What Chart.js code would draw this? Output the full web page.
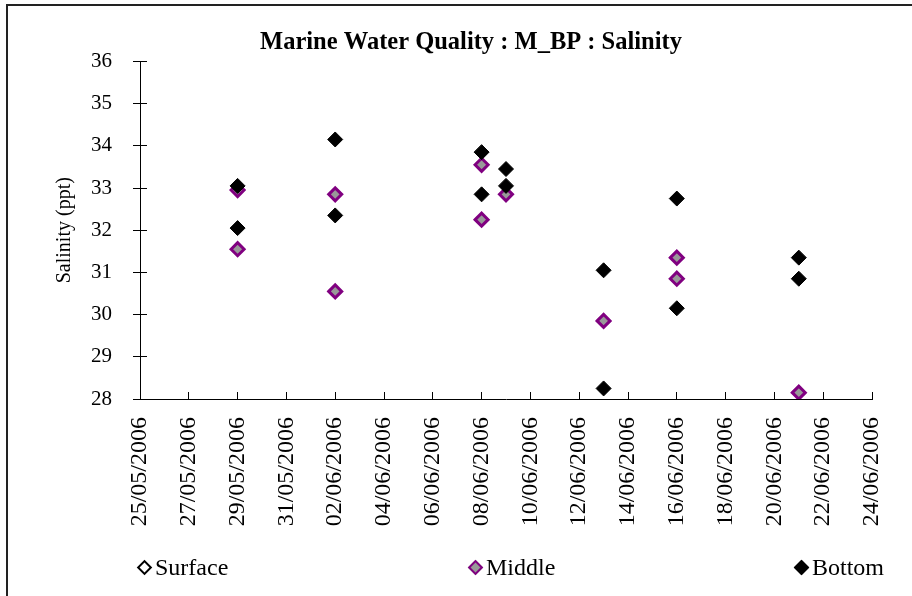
<!DOCTYPE html>
<html>
<head>
<meta charset="utf-8">
<script src="https://cdn.jsdelivr.net/npm/chart.js@4/dist/chart.umd.min.js"></script>
<style>
  body { margin: 0; background: #fff; }
  .wrap { position: relative; width: 912px; height: 596px; overflow: hidden; }
  .frame { position: absolute; left: 6px; top: 4px; width: 920px; height: 600px;
           border-left: 2px solid #222; border-top: 2px solid #222; }
  .legend { position: absolute; top: 553px; left: 0; width: 912px; height: 28px;
            font: 24px 'Times New Roman', 'Liberation Serif', serif; color: #000; }
  .legend span.item { position: absolute; white-space: nowrap; line-height: 28px; }
  .legend i { display: inline-block; width: 11px; height: 11px; box-sizing: border-box;
              transform: rotate(45deg); margin: 0 5px 3px 2px; vertical-align: middle; }
</style>
</head>
<body>
<div class="wrap">
  <canvas id="chart" width="912" height="596"></canvas>
  <div class="frame"></div>
  <div class="legend" id="legend"></div>
</div>
<script>
// x values are sampling dates, y values salinity (ppt)
const startDate = '25/05/2006';
const endDate = '24/06/2006';

const surfaceDates = [];
const surfaceValues = [];

const middleDates = ['29/05/2006', '29/05/2006', '02/06/2006', '02/06/2006', '08/06/2006', '08/06/2006',
  '09/06/2006', '13/06/2006', '16/06/2006', '16/06/2006', '21/06/2006'];
const middleValues = [32.95, 31.55, 32.85, 30.55, 33.55, 32.25, 32.85, 29.85, 31.35, 30.85, 28.15];

const bottomDates = ['29/05/2006', '29/05/2006', '02/06/2006', '02/06/2006', '08/06/2006', '08/06/2006',
  '09/06/2006', '09/06/2006', '13/06/2006', '13/06/2006', '16/06/2006', '16/06/2006', '21/06/2006', '21/06/2006'];
const bottomValues = [33.05, 32.05, 34.15, 32.35, 33.85, 32.85, 33.45, 33.05, 31.05, 28.25, 32.75, 30.15, 31.35, 30.85];

const DAY = 86400000;
const parseDate = (s) => {
  const [d, m, y] = s.split('/').map(Number);
  return Date.UTC(y, m - 1, d);
};
const t0 = parseDate(startDate);
const dayOf = (s) => (parseDate(s) - t0) / DAY;
const fmtDay = (n) => {
  const dt = new Date(t0 + n * DAY);
  const p = (v) => String(v).padStart(2, '0');
  return p(dt.getUTCDate()) + '/' + p(dt.getUTCMonth() + 1) + '/' + dt.getUTCFullYear();
};
const toPoints = (dates, values) => dates.map((d, i) => ({ x: dayOf(d), y: values[i] }));

const serif = "'Times New Roman', 'Liberation Serif', serif";

const series = [
  { label: 'Surface', data: toPoints(surfaceDates, surfaceValues), bg: '#ffffff', border: '#000000', bw: 2, r: 7, order: 2 },
  { label: 'Middle', data: toPoints(middleDates, middleValues), bg: '#999999', border: '#800080', bw: 3, r: 6.5, order: 1 },
  { label: 'Bottom', data: toPoints(bottomDates, bottomValues), bg: '#000000', border: '#000000', bw: 1, r: 7.5, order: 0 },
];

const chart = new Chart(document.getElementById('chart'), {
  type: 'scatter',
  data: {
    datasets: series.map((s) => ({
      label: s.label,
      data: s.data,
      order: s.order,
      pointStyle: 'rectRot',
      pointRadius: s.r,
      pointHoverRadius: s.r,
      pointBackgroundColor: s.bg,
      pointBorderColor: s.border,
      pointBorderWidth: s.bw,
      backgroundColor: s.bg,
      borderColor: s.border,
    })),
  },
  options: {
    responsive: false,
    animation: false,
    layout: { padding: { top: 0, left: 70, right: 40, bottom: 67 } },
    scales: {
      x: {
        type: 'linear',
        min: 0,
        max: dayOf(endDate),
        afterFit: (scale) => {
          scale.height = 130;
          // rotated labels sit inside the plot width, no extra side room
          scale.paddingLeft = 0;
          scale.paddingRight = 0;
        },
        border: { display: true, color: '#000', width: 1 },
        grid: { drawOnChartArea: false, drawTicks: true, tickLength: -7, tickColor: '#000' },
        ticks: {
          stepSize: 2,
          autoSkip: false,
          maxRotation: 90,
          minRotation: 90,
          padding: 25,
          color: '#000',
          font: { family: serif, size: 24 },
          callback: (v) => fmtDay(v),
        },
      },
      y: {
        min: 28,
        max: 36,
        afterFit: (scale) => { scale.width = 70; },
        border: { display: true, color: '#000', width: 1 },
        grid: { drawOnChartArea: false, drawTicks: true, tickLength: 7, tickColor: '#000' },
        ticks: { stepSize: 1, padding: 21, color: '#000', font: { family: serif, size: 21 } },
        title: {
          display: true,
          text: 'Salinity (ppt)',
          color: '#000',
          font: { family: serif, size: 20 },
          padding: { top: -17, bottom: 0 },
        },
      },
      // inner half of the cross tick marks on the value axis
      yIn: {
        axis: 'y',
        display: true,
        position: { x: 0 },
        min: 28,
        max: 36,
        border: { display: false },
        grid: { drawOnChartArea: false, drawTicks: true, tickLength: -7, tickColor: '#000' },
        ticks: { stepSize: 1, display: false },
      },
    },
    plugins: {
      legend: { display: false },
      tooltip: { enabled: false },
      title: {
        display: true,
        text: 'Marine Water Quality : M_BP : Salinity',
        color: '#000',
        font: { family: serif, size: 24.5, weight: 'bold' },
        padding: { top: 28, bottom: 4 },
      },
    },
  },
});

// legend spread across the bottom like the original
const legendLeft = [137, 468, 794];
const legendEl = document.getElementById('legend');
series.forEach((s, i) => {
  const item = document.createElement('span');
  item.className = 'item';
  item.style.left = legendLeft[i] + 'px';
  const mark = document.createElement('i');
  mark.style.background = s.bg;
  mark.style.border = Math.min(s.bw, 2) + 'px solid ' + s.border;
  item.appendChild(mark);
  item.appendChild(document.createTextNode(s.label));
  legendEl.appendChild(item);
});
</script>
</body>
</html>
